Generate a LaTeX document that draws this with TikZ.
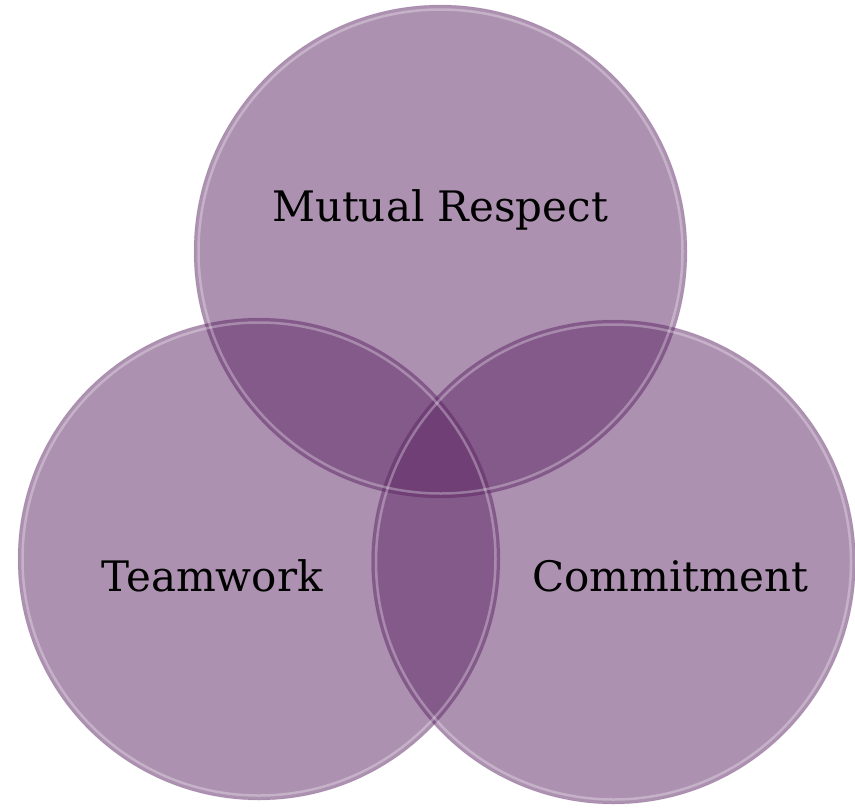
\documentclass[tikz,border=0pt]{standalone}
\usepackage{fontspec}
\setmainfont{DejaVu Serif}
\definecolor{vennpurple}{RGB}{91,36,99}
\begin{document}
\begin{tikzpicture}[x=1pt,y=-1pt,
  venn/.style={circle,minimum size=#1,inner sep=0pt,fill=vennpurple,fill opacity=0.5,draw=vennpurple,draw opacity=0.12,line width=0.8pt},
  rim/.style={draw=white,draw opacity=0.3,line width=2.5pt},
  lbl/.style={font=\fontsize{42}{46}\selectfont,text=black,inner sep=0pt}]
\useasboundingbox (0,0) rectangle (855,809);
\node[venn=493pt] (top) at (440.5,251.5) {};
\node[venn=482pt] (left) at (259,559) {};
\node[venn=484pt] (right) at (613.5,562) {};
\draw[rim] (top.center) circle[radius=242];
\draw[rim] (left.center) circle[radius=236.5];
\draw[rim] (right.center) circle[radius=237.5];
\node[lbl,anchor=base] (t1) at (440,221) {Mutual Respect};
\node[lbl,anchor=base] (t2) at (212,591) {Teamwork};
\node[lbl,anchor=base] (t3) at (670,591) {Commitment};
\end{tikzpicture}
\end{document}
